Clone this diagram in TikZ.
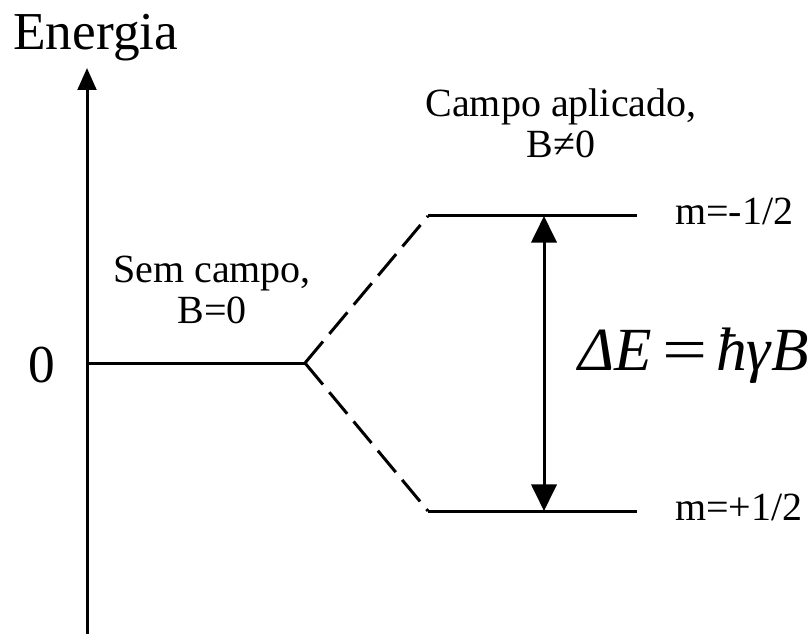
\documentclass[tikz,border=0pt]{standalone}
\usepackage{fontspec}
\usepackage{graphicx}
\setmainfont{Liberation Serif}
\usetikzlibrary{arrows.meta}
\tikzset{
    zeeman diagram/.style = {x=0.75pt, y=-0.75pt},
    line/.style        = {line width=2.25pt},
    split/.style       = {line, dash pattern=on 21pt off 7.5pt},
    axis tip/.style    = {-{Triangle[length=16.5pt, width=14pt]}},
    gap tip/.style     = {{Triangle[length=20pt, width=19pt]}-{Triangle[length=20pt, width=19pt]}},
    lbl/.style         = {font=\fontsize{30}{30.75}\selectfont, inner sep=0pt},
    big/.style         = {font=\fontsize{40}{40}\selectfont, inner sep=0pt},
    formula/.style     = {font=\fontsize{46}{46}\selectfont\itshape, inner sep=0pt}
}
\begin{document}
\begin{tikzpicture}[zeeman diagram]
\useasboundingbox (0,0) rectangle (809,634);

% ================= Energy axis =================
\coordinate (axis bottom) at (87,634);
\coordinate (axis top)    at (87,68);
\draw[line, axis tip] (axis bottom) -- (axis top);
\node[big, anchor=base west] (energia) at (13,50) {Energia};
\node[big, anchor=base] (zero label) at (42,382) {0};

% ================= Levels =================
\coordinate (zero)      at (87,363);
\coordinate (fork)      at (305,363);
\coordinate (up start)  at (428,216);
\coordinate (up end)    at (637,216);
\coordinate (low start) at (428,511);
\coordinate (low end)   at (637,511);

\draw[line] (zero) -- (fork);
\draw[split] (fork) -- (up start);
\draw[split] (fork) -- (low start);
\draw[line] (up start) -- (up end);
\draw[line] (low start) -- (low end);

% splitting arrow
\coordinate (gap top)    at (544,216);
\coordinate (gap bottom) at (544,511);
\draw[line, gap tip] (gap top) -- (gap bottom);

% ================= Labels =================
% base anchor of a two-line node sits on its last line
\node[lbl, align=center, anchor=base] (sem) at (212,323) {Sem campo,\\B=0};
\node[lbl, align=center, anchor=base] (campo) at (561,158) {Campo aplicado,\\B≠0};
\node[lbl, anchor=base west] (m minus) at (675,225) {m=-1/2};
\node[lbl, anchor=base west] (m plus)  at (675,520) {m=+1/2};
\node[formula, anchor=base west] (delta) at (578,370)
    {ΔE\hspace{4pt}\scalebox{1.3}[1]{=}\hspace{4pt}ħγB};

\end{tikzpicture}
\end{document}
